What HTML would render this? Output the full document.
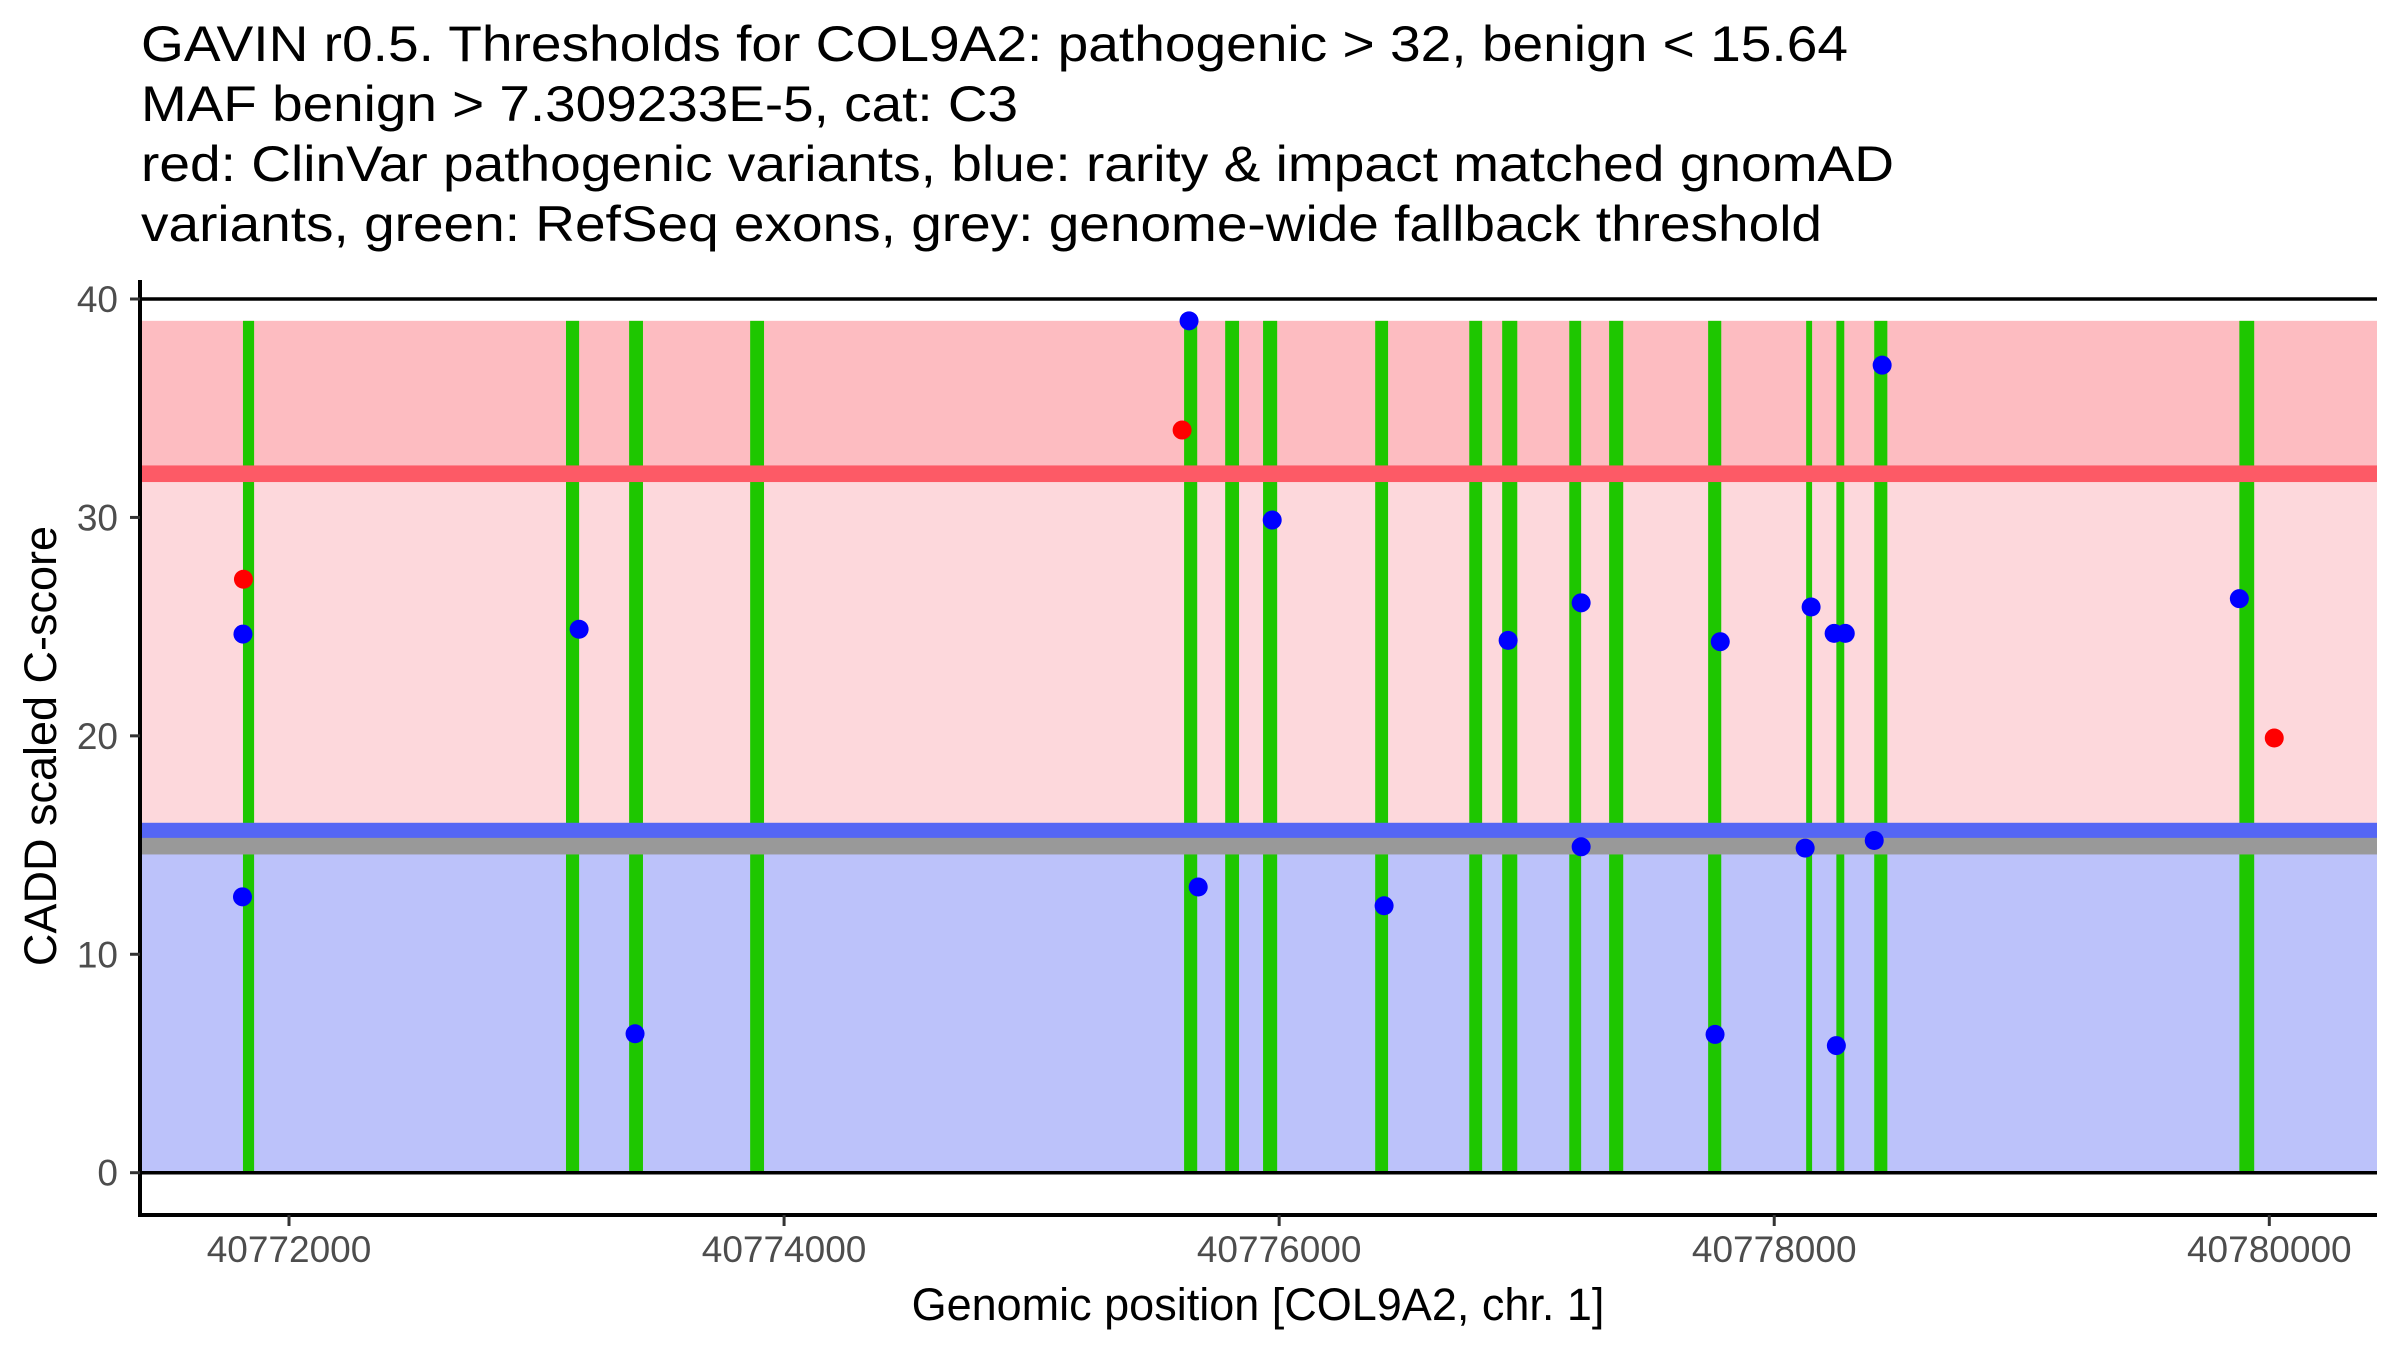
<!DOCTYPE html>
<html><head><meta charset="utf-8"><style>
html,body{margin:0;padding:0;background:#fff;}
svg{display:block;font-family:"Liberation Sans",Arial,sans-serif;}
</style></head><body>
<svg id="chart" width="2400" height="1350" viewBox="0 0 2400 1350" xmlns="http://www.w3.org/2000/svg">
<g font-size="50" fill="#000">
<text x="141" y="61" textLength="1707" lengthAdjust="spacingAndGlyphs">GAVIN r0.5. Thresholds for COL9A2: pathogenic &gt; 32, benign &lt; 15.64</text>
<text x="141" y="121" textLength="877" lengthAdjust="spacingAndGlyphs">MAF benign &gt; 7.309233E-5, cat: C3</text>
<text x="141" y="181" textLength="1753" lengthAdjust="spacingAndGlyphs">red: ClinVar pathogenic variants, blue: rarity &amp; impact matched gnomAD</text>
<text x="141" y="241" textLength="1681" lengthAdjust="spacingAndGlyphs">variants, green: RefSeq exons, grey: genome-wide fallback threshold</text>
</g>
<g id="bands"></g>
<g id="exons"></g>
<g id="hlines"></g>
<g id="points"></g>
<g id="axes"></g>
<text x="1258" y="1320" font-size="45" text-anchor="middle" fill="#000">Genomic position [COL9A2, chr. 1]</text>
<text transform="translate(56,746) rotate(-90)" font-size="45" text-anchor="middle" fill="#000">CADD scaled C-score</text>
</svg>
<script>
const xTicks = [40772000, 40774000, 40776000, 40778000, 40780000];
const yTicks = [0, 10, 20, 30, 40];
const exonStarts = [40771814, 40773119, 40773374, 40773863, 40775616, 40775782, 40775935, 40776388, 40776768, 40776901, 40777172, 40777333, 40777733, 40778129, 40778251, 40778404, 40779879];
const exonEnds   = [40771859, 40773172, 40773430, 40773919, 40775669, 40775838, 40775992, 40776440, 40776820, 40776962, 40777220, 40777390, 40777786, 40778153, 40778283, 40778457, 40779939];
const pathoPos = [40771816, 40775608, 40780020];
const pathoScore = [27.17, 34.0, 19.9];
const benignPos = [40771814, 40771812, 40773172, 40773398, 40775636, 40775673, 40775972, 40776424, 40776925, 40777220, 40777220, 40777761, 40777782, 40778125, 40778149, 40778242, 40778287, 40778251, 40778404, 40778436, 40779879];
const benignScore = [24.66, 12.63, 24.88, 6.36, 39.0, 13.08, 29.88, 12.22, 24.37, 26.09, 14.92, 6.33, 24.31, 14.86, 25.9, 24.69, 24.69, 5.82, 15.21, 36.97, 26.28];
const thrPatho = 32, thrBenign = 15.64, thrFallback = 14.95, bandTop = 39;

const X0 = 289, X1 = 2269.3, G0 = 40772000, G1 = 40780000;
const Y0 = 1172.7, Y40 = 299;
const PL = 140, PR = 2377, AXY = 1215, AXTOP = 280;
function sx(g){ return X0 + (g - G0) * (X1 - X0) / (G1 - G0); }
function sy(v){ return Y0 + v * (Y40 - Y0) / 40; }
const NS = 'http://www.w3.org/2000/svg';
function mk(tag, parent, attrs){ const e = document.createElementNS(NS, tag); for (const k in attrs) e.setAttribute(k, attrs[k]); parent.appendChild(e); return e; }

const bands = document.getElementById('bands');
let r;
r = mk('rect', bands, {x: PL, width: PR - PL, y: sy(bandTop), height: sy(thrPatho) - sy(bandTop), fill: '#fdbcc1'});


r = mk('rect', bands, {x: PL, width: PR - PL, y: sy(thrPatho), height: sy(thrBenign) - sy(thrPatho), fill: '#fdd8dc'});


r = mk('rect', bands, {x: PL, width: PR - PL, y: sy(thrBenign), height: sy(0) - sy(thrBenign), fill: '#bcc2fa'});



const hl = document.getElementById('hlines');
const lineW = 0.38 * (Y0 - Y40) / 40 * 2;
function hband(v, color, name){
  const e = mk('rect', hl, {x: PL, width: PR - PL, y: sy(v) - lineW/2, height: lineW, fill: color});
  
  
}
hband(thrPatho, '#fd5a66', 'pathogenic-threshold-line');
hband(thrBenign, '#5566f4', 'benign-threshold-line');
hband(thrFallback, '#999999', 'fallback-threshold-line');

const ex = document.getElementById('exons');
for (let i = 0; i < exonStarts.length; i++){
  const e = mk('rect', ex, {x: sx(exonStarts[i]), width: Math.max(sx(exonEnds[i]) - sx(exonStarts[i]), 4), y: sy(bandTop), height: sy(0) - sy(bandTop), fill: '#1ec700'});
  
  
}

[0, 40].forEach(v => {
  const e = mk('line', hl, {x1: PL, x2: PR, y1: sy(v), y2: sy(v), stroke: '#000', 'stroke-width': 3.5});
  
  
});

const pts = document.getElementById('points');
for (let i = 0; i < benignPos.length; i++){
  const c = mk('circle', pts, {cx: sx(benignPos[i]), cy: sy(benignScore[i]), r: 9.5, fill: '#0000ff'});
  
  
}
for (let i = 0; i < pathoPos.length; i++){
  const c = mk('circle', pts, {cx: sx(pathoPos[i]), cy: sy(pathoScore[i]), r: 9.5, fill: '#ff0000'});
  
  
}

const ax = document.getElementById('axes');
let a = mk('line', ax, {x1: PL, x2: PL, y1: AXTOP, y2: AXY + 2, stroke: '#000', 'stroke-width': 4});


a = mk('line', ax, {x1: PL, x2: PR, y1: AXY, y2: AXY, stroke: '#000', 'stroke-width': 4});


xTicks.forEach(t => {
  const tk = mk('line', ax, {x1: sx(t), x2: sx(t), y1: AXY, y2: AXY + 11, stroke: '#333', 'stroke-width': 3});
  
  
  const lb = mk('text', ax, {x: sx(t), y: 1262, 'font-size': 37, 'text-anchor': 'middle', fill: '#4d4d4d'});
  lb.textContent = String(t);
  
  
});
yTicks.forEach(t => {
  const tk = mk('line', ax, {x1: PL - 10, x2: PL, y1: sy(t), y2: sy(t), stroke: '#333', 'stroke-width': 3});
  
  
  const lb = mk('text', ax, {x: 118, y: sy(t) + 13, 'font-size': 37, 'text-anchor': 'end', fill: '#4d4d4d'});
  lb.textContent = String(t);
  
  
});
</script>
</body></html>
